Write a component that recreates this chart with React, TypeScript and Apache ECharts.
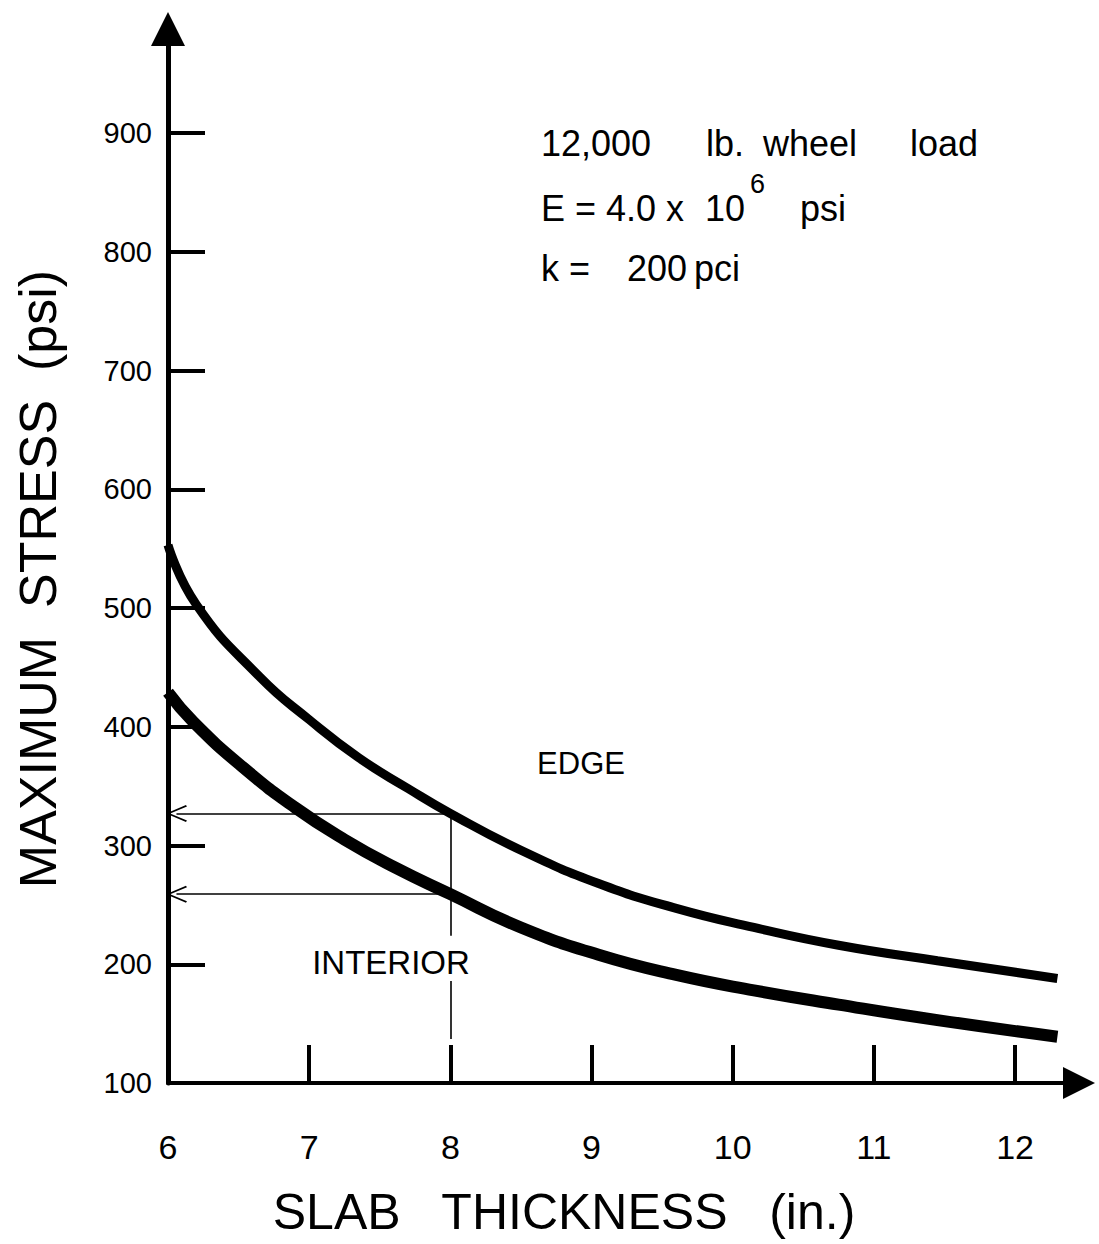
import { useEffect, useRef } from "react";
import * as echarts from "echarts";

const xLabelValues = [6, 7, 8, 9, 10, 11, 12];
const xTickValues = [7, 8, 9, 10, 11, 12];
const yLabelValues = [100, 200, 300, 400, 500, 600, 700, 800, 900];
const yTickValues = [200, 300, 400, 500, 600, 700, 800, 900];

const edgeX = [6.0, 6.2, 6.65, 7.0, 7.35, 7.7, 8.0, 8.5, 9.05, 9.6, 10.15, 10.75, 11.45, 12.3];
const edgeY = [553, 503, 442, 406, 374, 348, 327, 296, 268, 247, 231, 216, 203, 188];

const interiorX = [6.0, 6.18, 6.53, 6.9, 7.25, 7.6, 8.0, 8.5, 9.05, 9.6, 10.15, 10.75, 11.45, 12.3];
const interiorY = [429, 404, 366, 332, 305, 282, 259, 231, 208, 191, 178, 166, 153, 139];

const guideX = 8;
const edgeAtGuide = 327;
const interiorAtGuide = 259;
const guideSegments = [
  [327, 224],
  [186, 137],
];

const FONT = "'Liberation Sans', Arial, Helvetica, sans-serif";
const chevron = "path://M0,20 L10,0 L20,20 L18.2,21 L10,4.2 L1.8,21 Z";
const triangle = "path://M10,0 L20,20 L0,20 Z";

function txt(text: string, x: number, y: number, fontSize: number, align = "left", rotation = 0) {
  return {
    type: "text",
    x,
    y,
    rotation,
    silent: true,
    style: {
      text,
      fontSize,
      fontFamily: FONT,
      fill: "#000",
      textAlign: align,
      align,
      textVerticalAlign: "middle",
      verticalAlign: "middle",
    },
  };
}

export default function App() {
  const ref = useRef<HTMLDivElement>(null);
  useEffect(() => {
    if (!ref.current) return;
    const chart = echarts.init(ref.current, undefined, { renderer: "svg" });
    const edgeData = edgeX.map((x, i) => [x, edgeY[i]]);
    const interiorData = interiorX.map((x, i) => [x, interiorY[i]]);
    const arrowLine = { color: "#000", width: 1.6, type: "solid" };
    chart.setOption({
      animation: false,
      backgroundColor: "#fff",
      textStyle: { fontFamily: FONT, color: "#000" },
      grid: { left: 168, right: 20, top: 29, bottom: 161, containLabel: false },
      xAxis: {
        type: "value",
        min: 6,
        max: 12.453,
        interval: 1,
        axisLine: {
          show: true,
          symbol: ["none", triangle],
          symbolSize: [32, 38],
          lineStyle: { color: "#000", width: 4 },
        },
        axisTick: {
          show: true,
          inside: true,
          length: 38,
          customValues: xTickValues,
          lineStyle: { color: "#000", width: 4 },
        },
        axisLabel: {
          customValues: xLabelValues,
          fontSize: 34,
          color: "#000",
          margin: 47,
          fontFamily: FONT,
        },
        splitLine: { show: false },
      },
      yAxis: {
        type: "value",
        min: 100,
        max: 987.6,
        interval: 100,
        axisLine: {
          show: true,
          symbol: ["none", triangle],
          symbolSize: [34, 38],
          lineStyle: { color: "#000", width: 5 },
        },
        axisTick: {
          show: true,
          inside: true,
          length: 37,
          customValues: yTickValues,
          lineStyle: { color: "#000", width: 4 },
        },
        axisLabel: {
          customValues: yLabelValues,
          fontSize: 29,
          color: "#000",
          margin: 16,
          fontFamily: FONT,
          padding: [6, 0, 0, 0],
        },
        splitLine: { show: false },
      },
      series: [
        {
          name: "EDGE",
          type: "line",
          data: edgeData,
          smooth: 0.5,
          showSymbol: false,
          lineStyle: { color: "#000", width: 9, cap: "butt" },
          markLine: {
            silent: true,
            symbol: ["none", chevron],
            symbolSize: [17, 21],
            label: { show: false },
            lineStyle: arrowLine,
            data: [
              [{ coord: [guideX, edgeAtGuide] }, { coord: [6.06, edgeAtGuide] }],
              [{ coord: [guideX, interiorAtGuide] }, { coord: [6.06, interiorAtGuide] }],
            ],
          },
        },
        {
          name: "INTERIOR",
          type: "line",
          data: interiorData,
          smooth: 0.5,
          showSymbol: false,
          lineStyle: { color: "#000", width: 12, cap: "butt" },
          markLine: {
            silent: true,
            symbol: ["none", "none"],
            label: { show: false },
            lineStyle: arrowLine,
            data: guideSegments.map((s) => [
              { coord: [guideX, s[0]] },
              { coord: [guideX, s[1]] },
            ]),
          },
        },
      ],
      graphic: [
        txt("12,000", 541, 143, 36),
        txt("lb.", 706, 143, 36),
        txt("wheel", 763, 143, 36),
        txt("load", 910, 143, 36),
        txt("E = 4.0 x", 541, 208, 36),
        txt("10", 705, 208, 36),
        txt("6", 750, 184, 27),
        txt("psi", 800, 208, 36),
        txt("k =", 541, 268, 36),
        txt("200", 627, 268, 36),
        txt("pci", 694, 268, 36),
        txt("EDGE", 581, 763, 31, "center"),
        txt("INTERIOR", 391, 962, 33, "center"),
        txt("SLAB   THICKNESS   (in.)", 564, 1212, 50, "center"),
        txt("MAXIMUM  STRESS  (psi)", 38, 579, 52, "center", Math.PI / 2),
      ],
    });
    return () => chart.dispose();
  }, []);
  return (
    <div
      ref={ref}
      style={{ position: "fixed", left: 0, top: 0, width: 1099, height: 1244, background: "#fff" }}
    />
  );
}
